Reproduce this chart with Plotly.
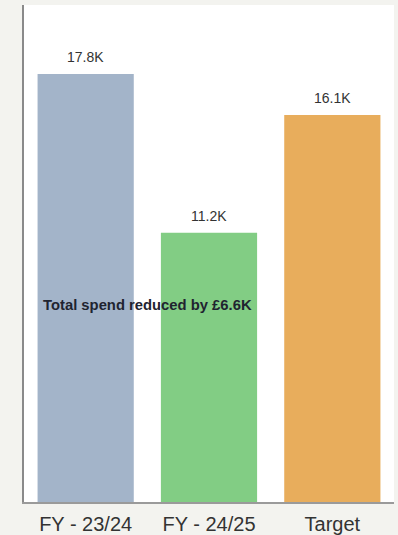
import plotly.graph_objects as go

# Spend per period, in thousands of pounds
categories = ["FY - 23/24", "FY - 24/25", "Target"]
spend_k = [17.8, 11.2, 16.1]
bar_colors = ["#a3b4c9", "#82cd84", "#e8ad5c"]
value_labels = [f"{v:.1f}K" for v in spend_k]
reduction_k = round(spend_k[0] - spend_k[1], 1)

FONT = "Liberation Sans, Arial, sans-serif"

fig = go.Figure(
    go.Bar(
        x=categories,
        y=spend_k,
        marker=dict(color=bar_colors, line=dict(width=0)),
        width=0.78,
        hoverinfo="x+y",
    )
)

# Value labels sitting above each bar
for cat, val, lab in zip(categories, spend_k, value_labels):
    fig.add_annotation(
        x=cat, y=val, xref="x", yref="y",
        text=lab, showarrow=False,
        yanchor="bottom", yshift=7,
        font=dict(family=FONT, size=14, color="#333333"),
    )

fig.add_annotation(
    x=0.5, y=8.2, xref="x", yref="y",
    text=f"<b>Total spend reduced by £{reduction_k}K</b>",
    showarrow=False,
    font=dict(family=FONT, size=14.8, color="#1f2430"),
)

fig.update_layout(
    width=398, height=535,
    margin=dict(l=24, r=4, t=5, b=33, autoexpand=False),
    paper_bgcolor="#f3f3ef",
    plot_bgcolor="#ffffff",
    showlegend=False,
    xaxis=dict(
        showgrid=False, showline=True, linecolor="#9a9a9a", linewidth=1.5,
        ticks="", ticklabelstandoff=3, automargin=False,
        tickfont=dict(family=FONT, size=20, color="#333333"),
    ),
    yaxis=dict(
        range=[0, 20.67], showgrid=False, showline=True, linecolor="#8a8a8a", linewidth=2,
        showticklabels=False, ticks="", zeroline=False, automargin=False,
    ),
)

fig.write_html("out.html")
